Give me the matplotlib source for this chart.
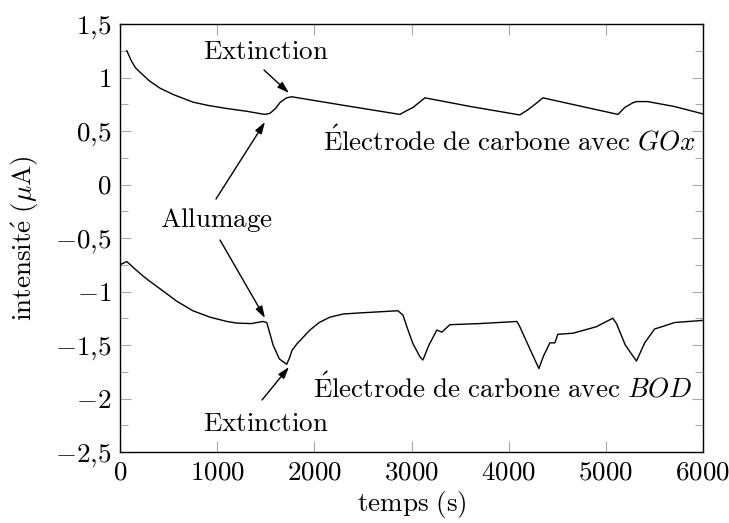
import matplotlib
matplotlib.use("Agg")
import matplotlib.pyplot as plt
from matplotlib.ticker import MultipleLocator

plt.rcParams['mathtext.fontset'] = 'cm'
plt.rcParams['font.family'] = ['cmr10', 'DejaVu Serif']
plt.rcParams['axes.unicode_minus'] = False

# --- data ---
t_gox = [70, 120, 160, 206, 300, 412, 550, 751, 900, 1100, 1300, 1490, 1543, 1600,
         1650, 1715, 1767, 2300, 2880, 2950, 3015, 3138, 3600, 4115, 4200, 4300,
         4352, 4700, 5125, 5195, 5280, 5315, 5430, 5700, 6000]
v_gox = [1.25, 1.15, 1.09, 1.05, 0.97, 0.90, 0.84, 0.77, 0.74, 0.71, 0.685, 0.655,
         0.665, 0.71, 0.77, 0.81, 0.82, 0.74, 0.655, 0.69, 0.72, 0.81, 0.73, 0.65,
         0.70, 0.77, 0.81, 0.74, 0.655, 0.72, 0.765, 0.775, 0.775, 0.73, 0.66]

t_bod = [0, 70, 154, 230, 300, 450, 583, 750, 926, 1100, 1200, 1350, 1470, 1510, 1545,
         1575, 1640, 1715, 1745, 1770, 1820, 1955, 2050, 2160, 2300, 2470, 2860,
         2912, 2960, 3016, 3087, 3117, 3180, 3261, 3312, 3395, 3700, 4084, 4110,
         4200, 4311, 4360, 4424, 4475, 4506, 4661, 4900, 5072, 5110, 5200, 5315,
         5400, 5502, 5574, 5708, 6000]
v_bod = [-0.75, -0.72, -0.79, -0.85, -0.90, -1.00, -1.09, -1.18, -1.24, -1.28, -1.295,
         -1.30, -1.28, -1.29, -1.40, -1.50, -1.63, -1.68, -1.62, -1.55, -1.49,
         -1.36, -1.29, -1.24, -1.21, -1.20, -1.18, -1.22, -1.35, -1.49, -1.61,
         -1.64, -1.50, -1.36, -1.38, -1.31, -1.30, -1.28, -1.32, -1.50, -1.72,
         -1.60, -1.48, -1.48, -1.40, -1.39, -1.33, -1.25, -1.30, -1.50, -1.65,
         -1.48, -1.35, -1.33, -1.29, -1.27]

x_ticks = [0, 1000, 2000, 3000, 4000, 5000, 6000]
x_ticklabels = [r'$0$', r'$1000$', r'$2000$', r'$3000$', r'$4000$', r'$5000$', r'$6000$']
y_ticks = [1.5, 1.0, 0.5, 0.0, -0.5, -1.0, -1.5, -2.0, -2.5]
y_ticklabels = [r'$1{,}5$', r'$1$', r'$0{,}5$', r'$0$', r'$-0{,}5$', r'$-1$',
                r'$-1{,}5$', r'$-2$', r'$-2{,}5$']

FS = 19.5

fig = plt.figure(figsize=(7.29, 5.23), dpi=100)
ax = fig.add_axes([120/729, 1-452/523, (703-120)/729, (452-24)/523])

ax.plot(t_gox, v_gox, color='black', lw=1.0)
ax.plot(t_bod, v_bod, color='black', lw=1.0)

ax.set_xlim(0, 6000)
ax.set_ylim(-2.5, 1.5)
ax.set_xticks(x_ticks)
ax.set_xticklabels(x_ticklabels, fontsize=FS)
ax.set_yticks(y_ticks)
ax.set_yticklabels(y_ticklabels, fontsize=FS)
ax.yaxis.set_minor_locator(MultipleLocator(0.25))

ax.tick_params(which='both', direction='in', color='#a8a8a8', width=0.8,
               top=True, right=True, labelcolor='black')
ax.tick_params(which='major', length=8, pad=6)
ax.tick_params(which='minor', length=5.5)
for s in ax.spines.values():
    s.set_linewidth(1.0)

ax.set_xlabel(r'$\mathrm{temps\ (s)}$', fontsize=FS, labelpad=3.5)
ax.set_ylabel(r'$\mathrm{intensit\acute{e}\ (}\mu\mathrm{A)}$', fontsize=FS, labelpad=10)

arrow = dict(arrowstyle='-|>,head_length=0.7,head_width=0.22', color='black',
             lw=1.0, shrinkA=0, shrinkB=0)

def px(x, y):
    # convert pixel position of reference to data coords
    return ((x-120)/(703-120)*6000, 1.5-(y-24)/(452-24)*4.0)

ax.text(*px(266, 52), r'$\mathrm{Extinction}$', fontsize=FS, ha='center', va='center')
ax.annotate('', xy=px(289, 93), xytext=px(264, 70), arrowprops=arrow)

ax.text(*px(217, 220), r'$\mathrm{Allumage}$', fontsize=FS, ha='center', va='center')
ax.annotate('', xy=px(265, 122), xytext=px(216, 199), arrowprops=arrow)
ax.annotate('', xy=px(265, 318), xytext=px(220, 240), arrowprops=arrow)

ax.text(*px(266, 424), r'$\mathrm{Extinction}$', fontsize=FS, ha='center', va='center')
ax.annotate('', xy=px(289, 367), xytext=px(262, 400), arrowprops=arrow)

ax.text(*px(695, 140), r'$\mathrm{\acute{E}lectrode\ de\ carbone\ avec}\ GOx$',
        fontsize=FS, ha='right', va='center')
ax.text(*px(692, 387), r'$\mathrm{\acute{E}lectrode\ de\ carbone\ avec}\ BOD$',
        fontsize=FS, ha='right', va='center')

fig.savefig('out.png', dpi=100)
